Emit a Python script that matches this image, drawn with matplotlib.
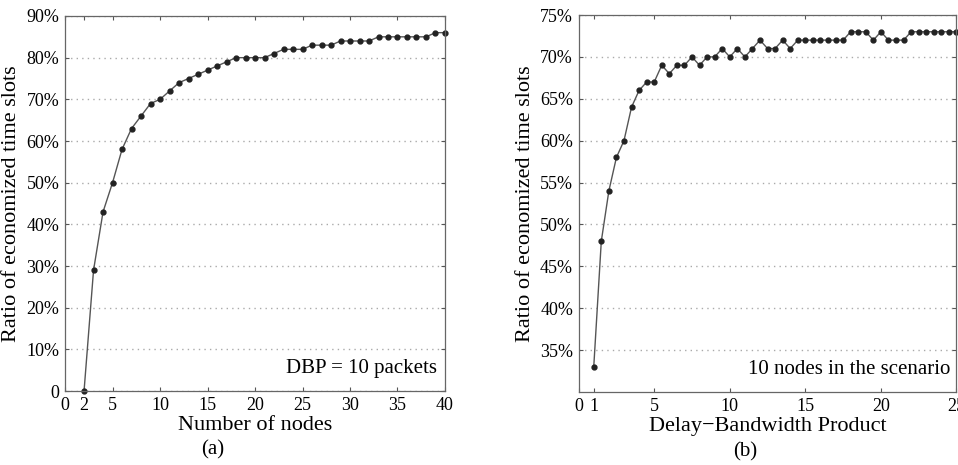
import matplotlib
matplotlib.use("Agg")
import matplotlib.pyplot as plt
from matplotlib.ticker import FuncFormatter

plt.rcParams["font.family"] = ["Liberation Serif", "DejaVu Serif"]

# panel (a): number of nodes vs ratio (%)
nodes = list(range(2, 41))
ratio_nodes = [0, 29, 43, 50, 58, 63, 66, 69, 70, 72, 74, 75, 76, 77, 78, 79,
               80, 80, 80, 80, 81, 82, 82, 82, 83, 83, 83, 84, 84, 84, 84,
               85, 85, 85, 85, 85, 85, 86, 86]

# panel (b): delay-bandwidth product vs ratio (%)
dbp = [1 + 0.5 * i for i in range(49)]
ratio_dbp = [33, 48, 54, 58, 60, 64, 66, 67, 67, 69, 68, 69, 69, 70, 69, 70,
             70, 71, 70, 71, 70, 71, 72, 71, 71, 72, 71, 72, 72, 72, 72, 72,
             72, 72, 73, 73, 73, 72, 73, 72, 72, 72, 73, 73, 73, 73, 73, 73, 73]

xticks_a = [0, 2, 5, 10, 15, 20, 25, 30, 35, 40]
yticks_a = [0, 10, 20, 30, 40, 50, 60, 70, 80, 90]
xticks_b = [0, 1, 5, 10, 15, 20, 25]
yticks_b = [35, 40, 45, 50, 55, 60, 65, 70, 75]


def pct(v, pos):
    return "0" if v == 0 else "%d%%" % v


fig = plt.figure(figsize=(9.58, 4.65), dpi=100)
ax1 = fig.add_axes([0.0679, 0.159, 0.3966, 0.8066])
ax2 = fig.add_axes([0.604, 0.157, 0.3944, 0.8107])


def style(ax):
    ax.tick_params(direction="in", top=True, right=True, labelsize=13,
                   length=3, color="#555555", pad=4)
    for s in ax.spines.values():
        s.set_color("#666666")
        s.set_linewidth(0.9)
    ax.yaxis.grid(True, linestyle=(0, (1, 3)), color="#aaaaaa", linewidth=1.0)
    ax.set_axisbelow(True)
    ax.yaxis.set_major_formatter(FuncFormatter(pct))
    ax.set_ylabel("Ratio of economized time slots", fontsize=16, labelpad=4)


ax1.plot(nodes, ratio_nodes, color="#555555", linewidth=1.0,
         marker="o", markersize=3.5, markerfacecolor="#222222",
         markeredgecolor="#222222", clip_on=False)
ax1.set_xlim(0, 40)
ax1.set_ylim(0, 90)
ax1.set_xticks(xticks_a)
ax1.set_yticks(yticks_a)
style(ax1)
ax1.set_xlabel("Number of nodes", fontsize=16, labelpad=2)
ax1.text(0.98, 0.06, "DBP = 10 packets", transform=ax1.transAxes,
         ha="right", va="center", fontsize=15)
fig.text(0.2223, 0.032, "(a)", ha="center", va="center", fontsize=15)

ax2.plot(dbp, ratio_dbp, color="#555555", linewidth=1.0,
         marker="o", markersize=3.5, markerfacecolor="#222222",
         markeredgecolor="#222222", clip_on=False)
ax2.set_xlim(0, 25)
ax2.set_ylim(30, 75)
ax2.set_xticks(xticks_b)
ax2.set_yticks(yticks_b)
style(ax2)
ax2.set_xlabel("Delay\u2212Bandwidth Product", fontsize=16, labelpad=2)
ax2.text(0.985, 0.06, "10 nodes in the scenario", transform=ax2.transAxes,
         ha="right", va="center", fontsize=15)
fig.text(0.778, 0.028, "(b)", ha="center", va="center", fontsize=15)

fig.savefig("out.png", dpi=100)
